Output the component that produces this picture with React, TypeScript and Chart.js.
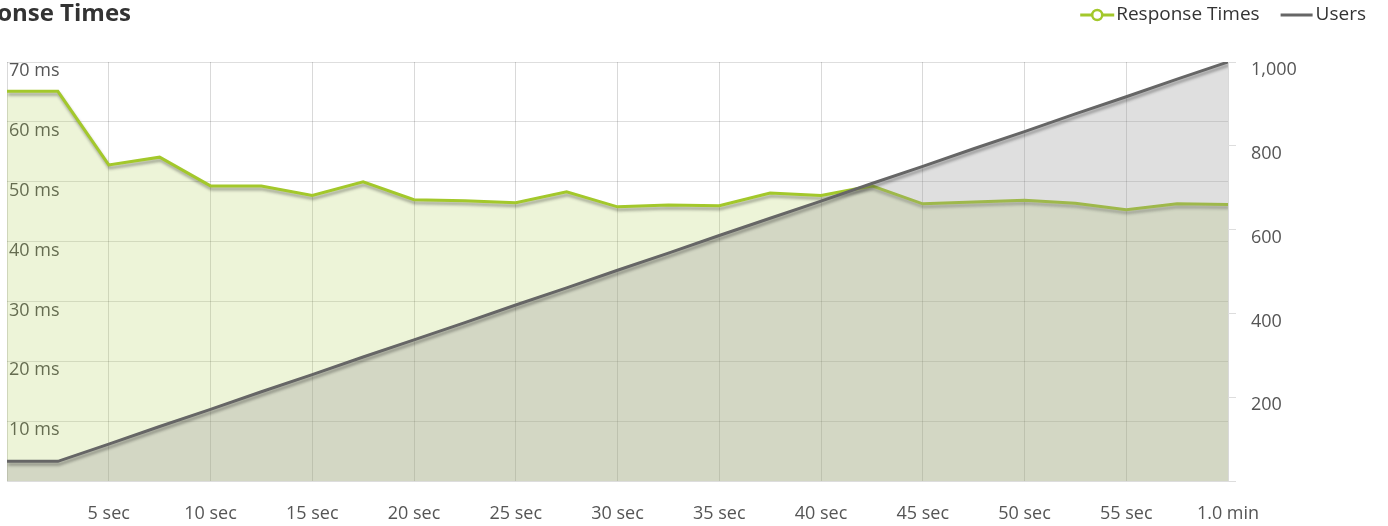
import React, { useEffect, useRef } from "react";
import { Chart, registerables } from "chart.js";

Chart.register(...registerables);

const chartTitle = "Response Times";
const timeSec = [0, 2.5, 5, 7.5, 10, 12.5, 15, 17.5, 20, 22.5, 25, 27.5, 30, 32.5, 35, 37.5, 40, 42.5, 45, 47.5, 50, 52.5, 55, 57.5, 60];
const responseMs = [65.1, 65.1, 52.8, 54.1, 49.3, 49.3, 47.7, 50.0, 47.0, 46.8, 46.5, 48.3, 45.8, 46.1, 46.0, 48.1, 47.7, 49.3, 46.3, 46.6, 46.9, 46.4, 45.3, 46.3, 46.2];
const users = [47, 47, 88, 130, 171, 213, 254, 296, 337, 378, 420, 461, 503, 544, 586, 627, 668, 710, 751, 793, 834, 876, 917, 959, 1000];
const seriesNames = ["Response Times", "Users"];

const GREEN = "#a3c82b";
const GRAY = "#666666";
const FONT = '"Open Sans", sans-serif';

export default function App() {
  const ref = useRef<HTMLCanvasElement | null>(null);

  useEffect(() => {
    if (!ref.current) return;

    const shadowPlugin = {
      id: "lineShadow",
      beforeDatasetDraw(chart: any) {
        const ctx = chart.ctx;
        ctx.save();
        ctx.shadowColor = "rgba(0,0,0,0.32)";
        ctx.shadowBlur = 3;
        ctx.shadowOffsetX = 1;
        ctx.shadowOffsetY = 3;
      },
      afterDatasetDraw(chart: any) {
        chart.ctx.restore();
      },
    };

    const headerPlugin = {
      id: "header",
      afterDraw(chart: any) {
        const ctx = chart.ctx;
        ctx.save();
        // title (cut off on the left as in the reference)
        ctx.font = `bold 24px ${FONT}`;
        ctx.fillStyle = "#333333";
        ctx.textAlign = "right";
        ctx.textBaseline = "middle";
        ctx.fillText(chartTitle, 131, 14);

        // legend
        ctx.font = `19px ${FONT}`;
        ctx.textAlign = "left";
        const right = 1366;
        const uW = ctx.measureText(seriesNames[1]).width;
        const uX = right - uW;
        ctx.fillStyle = "#333333";
        ctx.fillText(seriesNames[1], uX, 15);
        ctx.strokeStyle = GRAY;
        ctx.lineWidth = 3;
        ctx.beginPath();
        ctx.moveTo(uX - 35, 15);
        ctx.lineTo(uX - 3, 15);
        ctx.stroke();

        const rW = ctx.measureText(seriesNames[0]).width;
        const rX = uX - 35 - 21 - rW;
        ctx.fillText(seriesNames[0], rX, 15);
        ctx.strokeStyle = GREEN;
        ctx.lineWidth = 3;
        ctx.beginPath();
        ctx.moveTo(rX - 36, 15);
        ctx.lineTo(rX - 2, 15);
        ctx.stroke();
        ctx.beginPath();
        ctx.arc(rX - 19, 15, 5, 0, Math.PI * 2);
        ctx.fillStyle = "#ffffff";
        ctx.fill();
        ctx.lineWidth = 2.5;
        ctx.stroke();
        ctx.restore();
      },
    };

    const chart = new Chart(ref.current, {
      type: "line",
      data: {
        datasets: [
          {
            label: seriesNames[0],
            data: timeSec.map((t, i) => ({ x: t, y: responseMs[i] })),
            yAxisID: "y",
            borderColor: GREEN,
            backgroundColor: "rgba(165,201,58,0.2)",
            borderWidth: 3,
            fill: "origin",
            pointRadius: 0,
            tension: 0,
            order: 1,
          },
          {
            label: seriesNames[1],
            data: timeSec.map((t, i) => ({ x: t, y: users[i] })),
            yAxisID: "y1",
            borderColor: GRAY,
            backgroundColor: "rgba(150,150,150,0.3)",
            borderWidth: 3,
            fill: "origin",
            pointRadius: 0,
            tension: 0,
            order: 0,
          },
        ],
      },
      options: {
        responsive: false,
        animation: false,
        layout: { padding: { top: 62, left: 0, right: 0, bottom: 0 } },
        plugins: {
          legend: { display: false },
          title: { display: false },
          tooltip: { enabled: false },
        },
        scales: {
          x: {
            type: "linear",
            min: 0,
            max: 60,
            ticks: {
              stepSize: 5,
              color: "#555555",
              font: { family: FONT, size: 18 },
              padding: 7,
              maxRotation: 0,
              autoSkip: false,
              callback: (v: any) => (v === 0 ? "" : v === 60 ? "1.0 min" : `${v} sec`),
            },
            grid: {
              color: "rgba(0,0,0,0.15)",
              drawTicks: true,
              tickLength: 15,
              tickColor: "rgba(0,0,0,0)",
              lineWidth: 1,
            },
            border: { display: true, color: "#dddddd" },
            afterFit: (s: any) => {
              s.height = 45;
            },
          },
          y: {
            position: "left",
            min: 0,
            max: 70,
            ticks: {
              stepSize: 10,
              mirror: true,
              padding: 2,
              labelOffset: 9,
              color: "#555555",
              font: { family: FONT, size: 18 },
              callback: (v: any) => (v === 0 ? "" : `${v} ms`),
            },
            grid: { color: "rgba(0,0,0,0.13)", drawTicks: false, lineWidth: 1 },
            border: { display: false },
            afterFit: (s: any) => {
              s.width = 7;
            },
          },
          y1: {
            position: "right",
            min: 0,
            max: 1000,
            ticks: {
              stepSize: 200,
              padding: 15,
              labelOffset: 8,
              color: "#555555",
              font: { family: FONT, size: 18 },
              callback: (v: any) => (v === 0 ? "" : Number(v).toLocaleString("en-US")),
            },
            grid: { drawOnChartArea: false, drawTicks: true, tickLength: 8, color: "#dddddd" },
            border: { display: false },
            afterFit: (s: any) => {
              s.width = 160;
            },
          },
        },
      },
      plugins: [shadowPlugin, headerPlugin],
    } as any);

    return () => chart.destroy();
  }, []);

  return (
    <div style={{ position: "absolute", left: 0, top: 0, width: 1388, height: 526, background: "#ffffff" }}>
      <canvas ref={ref} width={1388} height={526} style={{ display: "block" }} />
    </div>
  );
}
